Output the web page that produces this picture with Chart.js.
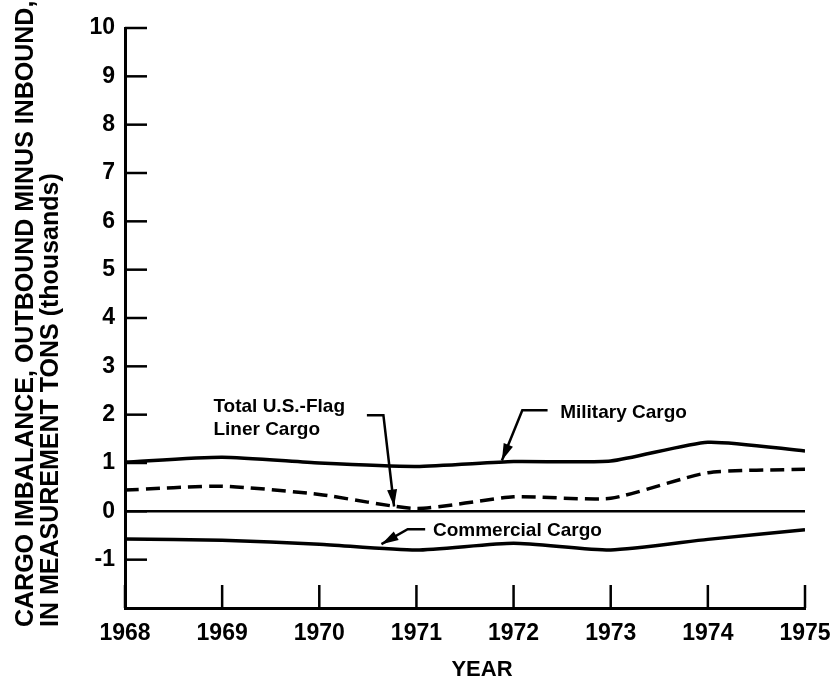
<!DOCTYPE html>
<html>
<head>
<meta charset="utf-8">
<script src="https://cdn.jsdelivr.net/npm/chart.js@4/dist/chart.umd.min.js"></script>
<style>
  html, body { margin: 0; padding: 0; background: #fff; }
  #wrap { width: 833px; height: 686px; }
</style>
</head>
<body>
<div id="wrap"><canvas id="myChart" width="833" height="686"></canvas></div>
<script>
// données (milliers de tonnes)
const annees = [1968, 1969, 1970, 1971, 1972, 1973, 1974, 1975];
const militaire = [1.02, 1.12, 1.0, 0.93, 1.03, 1.04, 1.43, 1.25];
const totalUS = [0.44, 0.52, 0.35, 0.06, 0.3, 0.27, 0.8, 0.87];
const commercial = [-0.57, -0.6, -0.68, -0.8, -0.66, -0.8, -0.58, -0.38];
const ticksY = [-1, 0, 1, 2, 3, 4, 5, 6, 7, 8, 9, 10];

const titreY1 = 'CARGO IMBALANCE, OUTBOUND MINUS INBOUND,';
const titreY2 = 'IN MEASUREMENT TONS (thousands)';
const titreX = 'YEAR';

// étiquettes avec flèches (en coordonnées des données)
const notes = [
    { lignes: ['Total U.S.-Flag', 'Liner Cargo'], x: 1968.91, y: 2.05,
      fleche: [[1970.49, 1.99], [1970.66, 1.99], [1970.77, 0.1]] },
    { lignes: ['Military Cargo'], x: 1972.48, y: 1.93,
      fleche: [[1972.35, 2.09], [1972.09, 2.09], [1971.88, 1.05]] },
    { lignes: ['Commercial Cargo'], x: 1971.17, y: -0.5,
      fleche: [[1971.09, -0.37], [1970.91, -0.37], [1970.64, -0.68]] }
];

const police = '"Liberation Sans", Arial, Helvetica, sans-serif';

function versPoints(valeurs) {
    return valeurs.map((v, i) => ({ x: annees[i], y: v }));
}

// dessine les petits traits de graduation à l'intérieur, les titres et les annotations
const decorPlugin = {
    id: 'decor',
    afterDraw(chart) {
        const ctx = chart.ctx;
        const sx = chart.scales.x;
        const sy = chart.scales.y;
        const area = chart.chartArea;
        ctx.save();
        ctx.strokeStyle = '#000';
        ctx.fillStyle = '#000';
        ctx.lineWidth = 2.5;

        // graduations Y vers la droite
        for (const t of ticksY) {
            const py = sy.getPixelForValue(t);
            ctx.beginPath();
            ctx.moveTo(area.left, py);
            ctx.lineTo(area.left + 22, py);
            ctx.stroke();
        }
        // graduations X vers le haut
        for (const a of annees) {
            const px = sx.getPixelForValue(a);
            ctx.beginPath();
            ctx.moveTo(px, area.bottom);
            ctx.lineTo(px, area.bottom - 23);
            ctx.stroke();
        }

        // titre de l'axe Y (deux lignes, alignées en bas)
        ctx.save();
        ctx.translate(0, 627);
        ctx.rotate(-Math.PI / 2);
        ctx.font = 'bold 25px ' + police;
        ctx.textAlign = 'left';
        ctx.textBaseline = 'alphabetic';
        ctx.fillText(titreY1, 0, 33);
        ctx.fillText(titreY2, 0, 58);
        ctx.restore();

        // titre de l'axe X
        ctx.font = 'bold 22px ' + police;
        ctx.textAlign = 'center';
        ctx.textBaseline = 'alphabetic';
        ctx.fillText(titreX, 482, 676);

        // annotations
        ctx.font = 'bold 19px ' + police;
        ctx.textAlign = 'left';
        for (const n of notes) {
            const px = sx.getPixelForValue(n.x);
            const py = sy.getPixelForValue(n.y);
            n.lignes.forEach((l, i) => ctx.fillText(l, px, py + i * 23));

            const pts = n.fleche.map(p => [sx.getPixelForValue(p[0]), sy.getPixelForValue(p[1])]);
            ctx.lineWidth = 2.5;
            ctx.beginPath();
            ctx.moveTo(pts[0][0], pts[0][1]);
            for (let i = 1; i < pts.length; i++) ctx.lineTo(pts[i][0], pts[i][1]);
            ctx.stroke();
            // pointe de flèche
            const a = pts[pts.length - 2];
            const b = pts[pts.length - 1];
            const ang = Math.atan2(b[1] - a[1], b[0] - a[0]);
            const lg = 17, lr = 5;
            ctx.beginPath();
            ctx.moveTo(b[0], b[1]);
            ctx.lineTo(b[0] - lg * Math.cos(ang) - lr * Math.sin(ang), b[1] - lg * Math.sin(ang) + lr * Math.cos(ang));
            ctx.lineTo(b[0] - lg * Math.cos(ang) + lr * Math.sin(ang), b[1] - lg * Math.sin(ang) - lr * Math.cos(ang));
            ctx.closePath();
            ctx.fill();
        }
        ctx.restore();
    }
};

const ctx = document.getElementById('myChart').getContext('2d');
const myChart = new Chart(ctx, {
    type: 'line',
    data: {
        datasets: [{
            label: 'Military Cargo',
            data: versPoints(militaire),
            borderColor: '#000',
            borderWidth: 3.5,
            pointRadius: 0,
            tension: 0.2,
            fill: false
        }, {
            label: 'Total U.S.-Flag Liner Cargo',
            data: versPoints(totalUS),
            borderColor: '#000',
            borderWidth: 3.5,
            borderDash: [14, 7],
            pointRadius: 0,
            tension: 0.2,
            fill: false
        }, {
            label: 'Commercial Cargo',
            data: versPoints(commercial),
            borderColor: '#000',
            borderWidth: 3.5,
            pointRadius: 0,
            tension: 0.2,
            fill: false
        }]
    },
    options: {
        responsive: false,
        animation: false,
        layout: { padding: { left: 0, top: 28, right: 28, bottom: 0 } },
        plugins: {
            legend: { display: false },
            tooltip: { enabled: false }
        },
        scales: {
            x: {
                type: 'linear',
                min: 1968,
                max: 1975,
                afterFit(scale) {
                    scale.height = 78;
                    scale.paddingLeft = 0;
                    scale.paddingRight = 0;
                },
                afterBuildTicks(scale) { scale.ticks = annees.map(v => ({ value: v })); },
                grid: { display: false, drawTicks: false },
                border: { display: true, color: '#000', width: 3 },
                ticks: {
                    color: '#000',
                    padding: 12,
                    maxRotation: 0,
                    font: { family: police, size: 23, weight: 'bold' },
                    callback: v => String(v)
                }
            },
            y: {
                type: 'linear',
                min: -2,
                max: 10,
                afterFit(scale) { scale.width = 125; },
                afterBuildTicks(scale) { scale.ticks = [-2].concat(ticksY).map(v => ({ value: v })); },
                grid: {
                    drawTicks: false,
                    lineWidth: 2.5,
                    color: c => (c.tick && c.tick.value === 0 ? '#000' : 'rgba(0,0,0,0)')
                },
                border: { display: true, color: '#000', width: 3 },
                ticks: {
                    color: '#000',
                    padding: 10,
                    font: { family: police, size: 23, weight: 'bold' },
                    callback: v => (v === -2 ? '' : String(v))
                }
            }
        }
    },
    plugins: [decorPlugin]
});
</script>
</body>
</html>
